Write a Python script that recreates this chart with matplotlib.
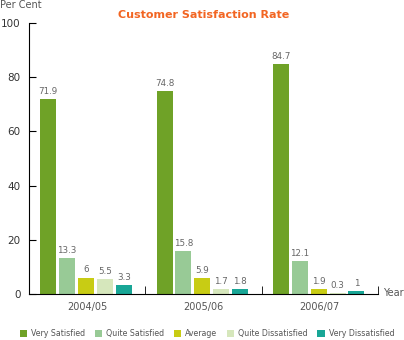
import numpy as np
import matplotlib
matplotlib.use("Agg")
import matplotlib.pyplot as plt

years = ["2004/05", "2005/06", "2006/07"]
groups = ["Very Satisfied", "Quite Satisfied", "Average", "Quite Dissatisfied", "Very Dissatisfied"]
very_satisfied = [71.9, 74.8, 84.7]
quite_satisfied = [13.3, 15.8, 12.1]
average = [6, 5.9, 1.9]
quite_dissatisfied = [5.5, 1.7, 0.3]
very_dissatisfied = [3.3, 1.8, 1]
colors = ["#6fa227", "#98ca96", "#c8cc14", "#d6e7bc", "#18a696"]

series = [very_satisfied, quite_satisfied, average, quite_dissatisfied, very_dissatisfied]

plt.rcParams['font.family'] = ['DejaVu Sans']

fig = plt.figure(figsize=(4.04, 3.4), dpi=100)
ax = fig.add_axes([0.0718, 0.1353, 0.8638, 0.7971])

x = np.arange(len(years))
slot = 0.1624
width = 0.137
for i, (vals, name, c) in enumerate(zip(series, groups, colors)):
    pos = x + (i - 2) * slot - 0.01
    ax.bar(pos, vals, width, color=c, label=name)
    for p, v in zip(pos, vals):
        ax.text(p, v + 1.2, f"{v:g}", ha="center", va="bottom", fontsize=6.3, color="#666666")

ax.set_xlim(-0.5, 2.5)
ax.set_ylim(0, 100)
ax.set_yticks([0, 20, 40, 60, 80, 100])
ax.tick_params(axis="y", direction="in", length=5, labelsize=7.5, labelcolor="#333333", pad=6)
ax.set_xticks(x)
ax.set_xticklabels(years)
ax.tick_params(axis="x", length=0, labelsize=7, labelcolor="#555555", pad=6)
ax.set_xticks([0.5, 1.5, 2.5], minor=True)
ax.tick_params(axis="x", which="minor", direction="in", length=6)
for s in ["top", "right"]:
    ax.spines[s].set_visible(False)

fig.text(0.503, 0.955, "Customer Satisfaction Rate", ha="center", va="center",
         fontsize=8, fontweight="bold", color="#f26522")
fig.text(0.0, 0.985, "Per Cent", ha="left", va="center", fontsize=7, color="#555555")
fig.text(0.948, 0.137, "Year", ha="left", va="center", fontsize=7, color="#555555")

fig.legend(loc="center", bbox_to_anchor=(0.512, 0.018), ncol=5, frameon=False,
           fontsize=5.7, handlelength=0.9, handleheight=0.9, handletextpad=0.5,
           columnspacing=1.25, labelcolor="#555555")

fig.savefig("out.png", dpi=100)
